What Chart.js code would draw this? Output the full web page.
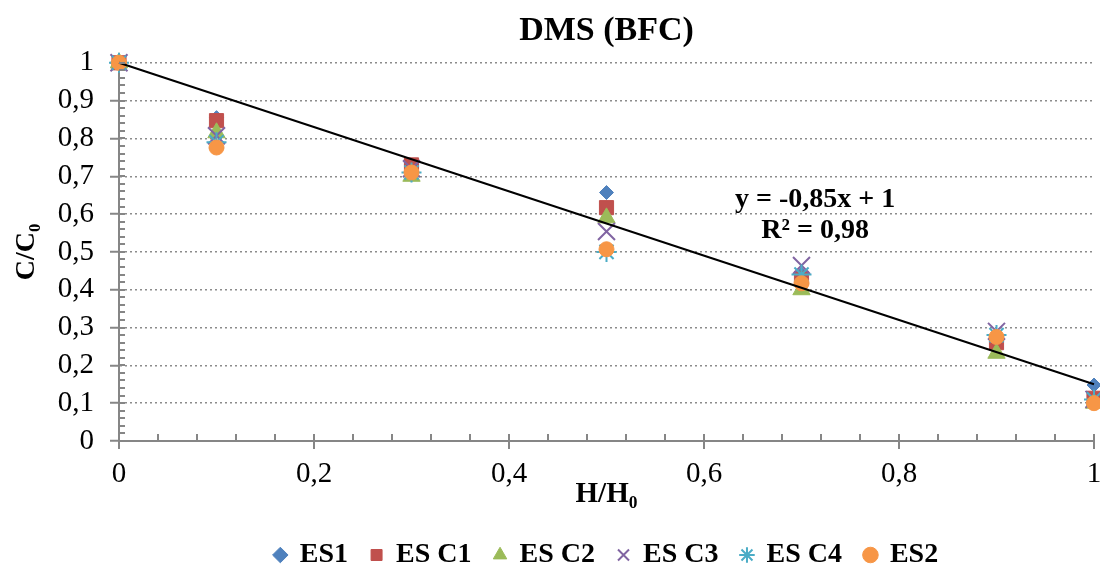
<!DOCTYPE html>
<html><head><meta charset="utf-8">
<script src="https://cdn.jsdelivr.net/npm/chart.js@4.4.1/dist/chart.umd.min.js"></script>
<style>html,body{margin:0;padding:0;background:#fff}#wrap{width:1100px;height:572px}</style>
</head><body><div id="wrap"><canvas id="c" width="1100" height="572"></canvas></div>
<script>
const xValues = [0, 0.1, 0.3, 0.5, 0.7, 0.9, 1];
const es1  = [1, 0.855, 0.73, 0.657, 0.44, 0.27, 0.148];
const esC1 = [1, 0.847, 0.73, 0.617, 0.43, 0.26, 0.113];
const esC2 = [1, 0.815, 0.70, 0.59, 0.40, 0.232, 0.10];
const esC3 = [1, 0.807, 0.72, 0.554, 0.464, 0.29, 0.11];
const esC4 = [1, 0.79, 0.71, 0.50, 0.44, 0.28, 0.11];
const es2  = [1, 0.776, 0.71, 0.507, 0.417, 0.275, 0.10];
const seriesNames = ['ES1', 'ES C1', 'ES C2', 'ES C3', 'ES C4', 'ES2'];
const trendX = [0, 1];
const trendSlope = -0.85, trendIntercept = 1;
const trendText = ['y = -0,85x + 1', 'R² = 0,98'];
const yTicks = [0, 0.1, 0.2, 0.3, 0.4, 0.5, 0.6, 0.7, 0.8, 0.9, 1];
const xTicks = [0, 0.2, 0.4, 0.6, 0.8, 1];

const FONT = "'Liberation Serif', 'Times New Roman', serif";
const AXIS = '#868686';
const styles = [
  {c:'#4F81BD', p:'rectRot', r:7},
  {c:'#C0504D', p:'rect', r:10},
  {c:'#9BBB59', p:'triangle', r:10},
  {c:'#8064A2', p:'crossRot', r:12},
  {c:'#4BACC6', p:'star', r:10},
  {c:'#F79646', p:'circle', r:7.5}
];
const allSeries = [es1, esC1, esC2, esC3, esC4, es2];
const datasets = allSeries.map((s, i) => ({
  label: seriesNames[i],
  data: xValues.map((x, j) => ({x, y: s[j]})),
  showLine: false,
  pointStyle: styles[i].p,
  pointRadius: styles[i].r,
  pointHoverRadius: styles[i].r,
  backgroundColor: styles[i].c,
  borderColor: styles[i].c,
  pointBorderWidth: (styles[i].p === 'crossRot' || styles[i].p === 'star') ? 2 : 1,
  order: 10 - i,
  clip: false
}));
datasets.push({
  label: 'trend',
  data: trendX.map(x => ({x, y: trendSlope * x + trendIntercept})),
  showLine: true, pointRadius: 0, borderColor: '#000', borderWidth: 2,
  order: -1, clip: false
});

const fmt = v => String(Math.round(v * 10) / 10).replace('.', ',');

const extras = {
  id: 'extras',
  afterDatasetsDraw(chart) {
    const ctx = chart.ctx, xs = chart.scales.x, ys = chart.scales.y;
    ctx.save();
    ctx.strokeStyle = AXIS; ctx.lineWidth = 2;
    const x0 = xs.getPixelForValue(0);
    for (let k = 0; k <= 50; k++) {
      const py = Math.round(ys.getPixelForValue(k * 0.02));
      ctx.beginPath(); ctx.moveTo(x0, py); ctx.lineTo(x0 + 6, py); ctx.stroke();
    }
    const y0 = ys.getPixelForValue(0);
    for (let k = 0; k <= 25; k++) {
      const px = Math.round(xs.getPixelForValue(k * 0.04));
      ctx.beginPath(); ctx.moveTo(px, y0); ctx.lineTo(px, y0 - 7); ctx.stroke();
    }
    ctx.restore();
    ctx.save();
    ctx.fillStyle = '#000';
    ctx.font = "bold 28px " + FONT;
    ctx.textAlign = 'center'; ctx.textBaseline = 'middle';
    ctx.fillText(trendText[0], xs.getPixelForValue(0.714), ys.getPixelForValue(0.638));
    ctx.fillText(trendText[1], xs.getPixelForValue(0.714), ys.getPixelForValue(0.556));
    ctx.restore();
  }
};

new Chart(document.getElementById('c'), {
  type: 'scatter',
  data: { datasets },
  plugins: [extras],
  options: {
    responsive: false, animation: false, devicePixelRatio: 1,
    layout: { autoPadding: false, padding: { left: 0, right: 6, top: 0, bottom: -7 } },
    plugins: {
      title: { display: true, text: 'DMS (BFC)', color: '#000', fullSize: false,
        font: { family: FONT, size: 34, weight: 'bold' }, padding: { top: 11, bottom: 11 } },
      legend: { position: 'bottom', fullSize: false,
        labels: { usePointStyle: true, color: '#000', padding: 23, boxWidth: 11, boxHeight: 11,
          font: { family: FONT, size: 28, weight: 'bold' },
          sort: (a, b) => a.datasetIndex - b.datasetIndex,
          filter: item => item.text !== 'trend' } },
      tooltip: { enabled: false }
    },
    scales: {
      x: { type: 'linear', min: 0, max: 1,
        afterBuildTicks: s => { s.ticks = xTicks.map(v => ({value: v})); },
        ticks: { callback: v => fmt(v), color: '#000', font: { family: FONT, size: 29 }, padding: 8, maxRotation: 0, autoSkip: false },
        grid: { drawOnChartArea: false, color: AXIS, lineWidth: 2, tickLength: 8 },
        border: { color: AXIS, width: 2 },
        title: { display: true, text: 'H/H₀', color: '#000', font: { family: FONT, size: 29, weight: 'bold' }, padding: { top: 0, bottom: 6 } },
        afterFit: s => { s.height = 77; s.paddingLeft = 0; s.paddingRight = 0; }
      },
      y: { type: 'linear', min: 0, max: 1,
        afterBuildTicks: s => { s.ticks = yTicks.map(v => ({value: v})); },
        ticks: { callback: v => fmt(v), color: '#000', font: { family: FONT, size: 29 }, padding: 16, autoSkip: false },
        grid: { color: '#8c8c8c', lineWidth: 1.5, tickBorderDash: [], tickColor: AXIS, tickWidth: 2, tickLength: 9 },
        border: { color: AXIS, width: 2, dash: [2, 3] },
        title: { display: true, text: 'C/C₀', color: '#000', font: { family: FONT, size: 28, weight: 'bold' }, padding: { top: 10, bottom: 0 } },
        afterFit: s => { s.width = 119; s.paddingTop = 0; s.paddingBottom = 0; }
      }
    }
  }
});
</script></body></html>
